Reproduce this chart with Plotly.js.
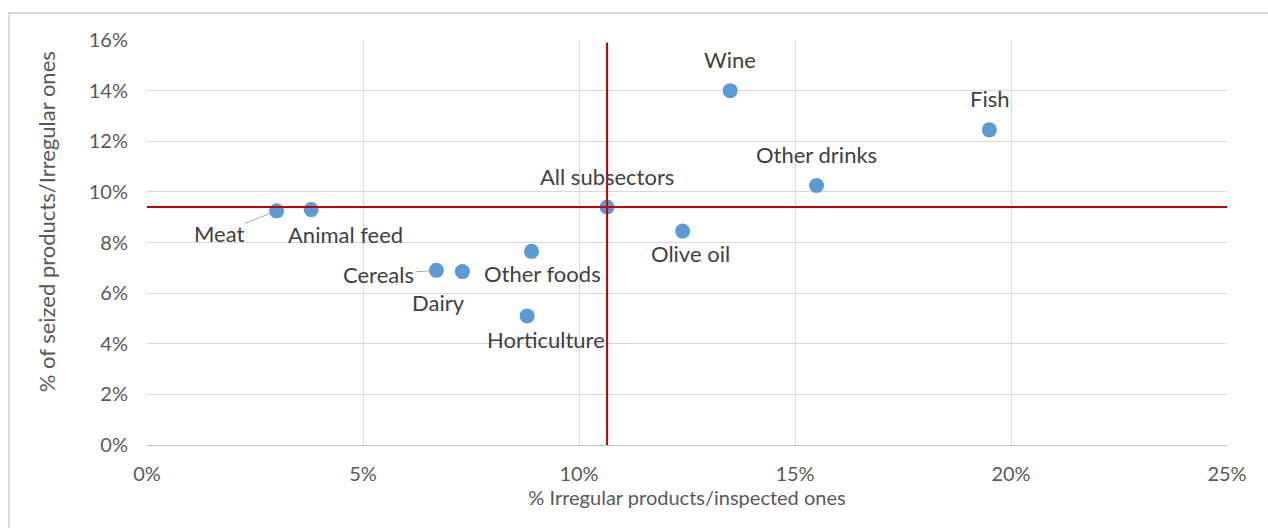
<!DOCTYPE html>
<html>
<head>
<meta charset="utf-8">
<script src="https://cdn.plot.ly/plotly-3.0.1.min.js"></script>
<style>
  html, body { margin: 0; padding: 0; background: #fff; }
  #chart { width: 1268px; height: 528px; }
</style>
</head>
<body>
<div id="chart"></div>
<script>
// Subsectors of the agri-food inspection campaign
const subsectors = ["Meat", "Animal feed", "Cereals", "Dairy", "Other foods", "Horticulture",
                    "All subsectors", "Olive oil", "Wine", "Other drinks", "Fish"];
// % irregular products over inspected ones
const irregularPct = [3.0, 3.8, 6.7, 7.3, 8.9, 8.8, 10.65, 12.4, 13.5, 15.5, 19.5];
// % seized products over irregular ones
const seizedPct = [9.25, 9.3, 6.9, 6.85, 7.65, 5.1, 9.4, 8.45, 14.0, 10.25, 12.45];

// Axis ticks
const xTicks = [0, 5, 10, 15, 20, 25];
const yTicks = [0, 2, 4, 6, 8, 10, 12, 14, 16];

// Label placement (pixel offsets from each marker) and leader lines
const labelPlacement = {
  "Meat":           { dx: -58, dy: 23, leader: true },
  "Animal feed":    { dx: 34,  dy: 25 },
  "Cereals":        { dx: -58, dy: 4, leader: true },
  "Dairy":          { dx: -24, dy: 31 },
  "Other foods":    { dx: 11,  dy: 22 },
  "Horticulture":   { dx: 19,  dy: 24 },
  "All subsectors": { dx: 0,   dy: -31 },
  "Olive oil":      { dx: 8,   dy: 22 },
  "Wine":           { dx: 0,   dy: -31 },
  "Other drinks":   { dx: 0,   dy: -31 },
  "Fish":           { dx: 0,   dy: -31 }
};

const FONT = "Lato, 'Open Sans', sans-serif";

const annotations = subsectors.map((name, i) => {
  const p = labelPlacement[name];
  const base = {
    x: irregularPct[i], y: seizedPct[i], xref: "x", yref: "y",
    text: name,
    font: { family: FONT, size: 22, color: "#404040" }
  };
  if (p.leader) {
    return Object.assign(base, {
      showarrow: true, arrowhead: 0, arrowwidth: 1, arrowcolor: "#a6a6a6",
      ax: p.dx, ay: p.dy, standoff: 7
    });
  }
  return Object.assign(base, { showarrow: false, xshift: p.dx, yshift: -p.dy });
});

// vertical axis title, set slightly above the plot's middle
annotations.push({
  xref: "paper", yref: "paper", x: -0.0935, y: 0.55,
  xanchor: "center", yanchor: "middle", textangle: -90, showarrow: false,
  text: "% of seized products/Irregular ones",
  font: { family: FONT, size: 22, color: "#595959" }
});

const allIdx = subsectors.indexOf("All subsectors");
const crossX = irregularPct[allIdx];
const crossY = seizedPct[allIdx];

const trace = {
  type: "scatter",
  mode: "markers",
  x: irregularPct,
  y: seizedPct,
  text: subsectors,
  marker: { size: 15, color: "#5b9bd5" },
  hoverinfo: "text+x+y"
};

const layout = {
  width: 1268,
  height: 528,
  margin: { l: 147, r: 41, t: 40, b: 83 },
  paper_bgcolor: "#ffffff",
  plot_bgcolor: "#ffffff",
  showlegend: false,
  font: { family: FONT, color: "#595959" },
  xaxis: {
    range: [0, 25],
    tickvals: xTicks,
    ticktext: xTicks.map(v => v + "%"),
    tickfont: { family: FONT, size: 20, color: "#595959" },
    showgrid: true,
    gridcolor: "#d9d9d9",
    gridwidth: 1,
    zeroline: false,
    showline: true,
    linecolor: "#bfbfbf",
    linewidth: 1,
    ticks: "",
    ticklabelstandoff: 11,
    title: { text: "% Irregular products/inspected ones", font: { family: FONT, size: 20, color: "#595959" }, standoff: 4 }
  },
  yaxis: {
    range: [0, 16],
    tickvals: yTicks,
    ticktext: yTicks.map(v => v + "%"),
    tickfont: { family: FONT, size: 20, color: "#595959" },
    showgrid: true,
    gridcolor: "#d9d9d9",
    gridwidth: 1,
    zeroline: false,
    showline: false,
    ticks: "",
    ticklabelstandoff: 18
  },
  shapes: [
    // chart frame
    { type: "rect", xref: "paper", yref: "paper", x0: -0.1278, x1: 1.05, y0: -0.25, y1: 1.0667,
      line: { color: "#d9d9d9", width: 2 }, layer: "below" },
    // reference cross through the all-subsectors average
    { type: "line", xref: "paper", yref: "y", x0: 0, x1: 1, y0: crossY, y1: crossY,
      line: { color: "#c00000", width: 2 } },
    { type: "line", xref: "x", yref: "y", x0: crossX, x1: crossX, y0: 15.9, y1: -0.2,
      line: { color: "#c00000", width: 2 } }
  ],
  annotations: annotations
};

Plotly.newPlot("chart", [trace], layout, { displayModeBar: false, staticPlot: true });
</script>
</body>
</html>
